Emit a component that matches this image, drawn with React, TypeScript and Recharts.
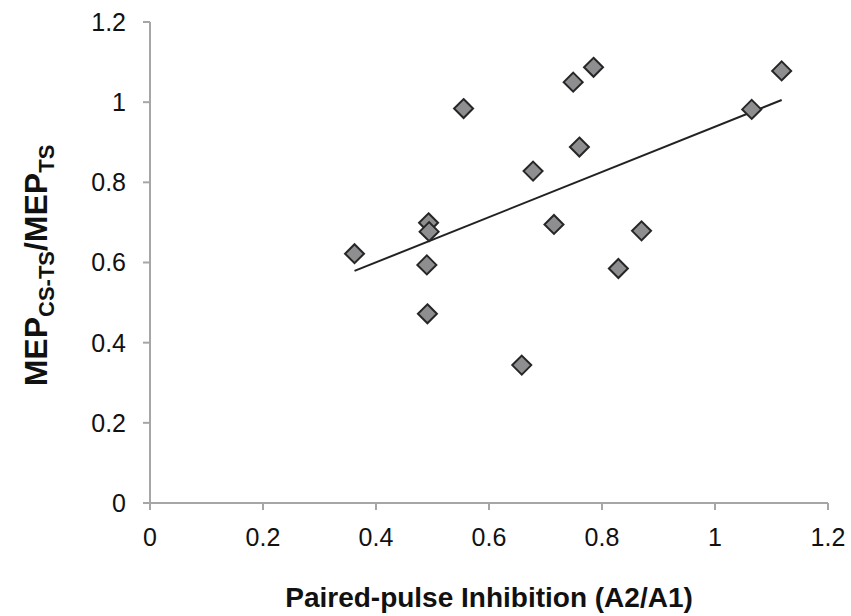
import React from "react";
import {
  ScatterChart,
  Scatter,
  XAxis,
  YAxis,
  ReferenceLine,
} from "recharts";

// Paired-pulse inhibition (A2/A1) vs MEP ratio, one point per subject
const ppi = [
  0.362, 0.493, 0.494, 0.49, 0.491, 0.555, 0.658, 0.678,
  0.715, 0.749, 0.785, 0.76, 0.829, 0.87, 1.065, 1.118,
];
const mepRatio = [
  0.622, 0.699, 0.677, 0.594, 0.472, 0.984, 0.344, 0.828,
  0.695, 1.05, 1.087, 0.888, 0.585, 0.679, 0.982, 1.078,
];
const xTicks = [0, 0.2, 0.4, 0.6, 0.8, 1, 1.2];
const yTicks = [0, 0.2, 0.4, 0.6, 0.8, 1, 1.2];

const points = ppi.map((x, i) => ({ x, y: mepRatio[i] }));

// least squares fit, like the Excel trendline
function linearFit(xs: number[], ys: number[]) {
  const n = xs.length;
  const mx = xs.reduce((a, b) => a + b, 0) / n;
  const my = ys.reduce((a, b) => a + b, 0) / n;
  let sxy = 0;
  let sxx = 0;
  for (let i = 0; i < n; i++) {
    sxy += (xs[i] - mx) * (ys[i] - my);
    sxx += (xs[i] - mx) * (xs[i] - mx);
  }
  const slope = sxy / sxx;
  return { slope, intercept: my - slope * mx };
}

const fit = linearFit(ppi, mepRatio);
const xMin = Math.min(...ppi);
const xMax = Math.max(...ppi);

const AXIS = "#a6a6a6";
const FONT = "'Liberation Sans', Arial, sans-serif";

function Diamond(props: any) {
  const { cx, cy } = props;
  const r = 9.5;
  return (
    <path
      d={`M${cx},${cy - r} L${cx + r},${cy} L${cx},${cy + r} L${cx - r},${cy} Z`}
      fill="#8e8e90"
      stroke="#262626"
      strokeWidth={2}
    />
  );
}

function YLabel(props: any) {
  const vb = props.viewBox || {};
  const cx = 47;
  const cy = vb.y + vb.height / 2 + 3;
  return (
    <text
      x={cx}
      y={cy}
      transform={`rotate(-90 ${cx} ${cy})`}
      textAnchor="middle"
      fontFamily={FONT}
      fontWeight="bold"
      fontSize={32}
      fill="#111"
    >
      MEP
      <tspan fontSize={22} dy={7}>CS-TS</tspan>
      <tspan dy={-7}>/MEP</tspan>
      <tspan fontSize={22} dy={7}>TS</tspan>
    </text>
  );
}

export default function App() {
  return (
    <div style={{ position: "absolute", left: 0, top: 0, background: "#fff" }}>
      <ScatterChart
        width={851}
        height={616}
        margin={{ top: 22, right: 23, bottom: 0, left: 0 }}
      >
        <XAxis
          type="number"
          dataKey="x"
          domain={[0, 1.2]}
          ticks={xTicks}
          height={113}
          stroke={AXIS}
          strokeWidth={2}
          tickSize={7}
          tickMargin={18}
          tick={{ fill: "#111", fontSize: 25, fontFamily: FONT }}
          label={{
            value: "Paired-pulse Inhibition (A2/A1)",
            position: "insideBottom",
            offset: 9,
            fill: "#111",
            fontSize: 28,
            fontWeight: "bold",
            fontFamily: FONT,
          }}
        />
        <YAxis
          type="number"
          dataKey="y"
          domain={[0, 1.2]}
          ticks={yTicks}
          width={150}
          stroke={AXIS}
          strokeWidth={2}
          tickSize={7}
          tickMargin={17}
          tick={{ fill: "#111", fontSize: 25, fontFamily: FONT }}
          label={<YLabel />}
        />
        <ReferenceLine
          segment={[
            { x: xMin, y: fit.intercept + fit.slope * xMin },
            { x: xMax, y: fit.intercept + fit.slope * xMax },
          ]}
          stroke="#222"
          strokeWidth={2}
        />
        <Scatter
          data={points}
          shape={<Diamond />}
          isAnimationActive={false}
        />
      </ScatterChart>
    </div>
  );
}
